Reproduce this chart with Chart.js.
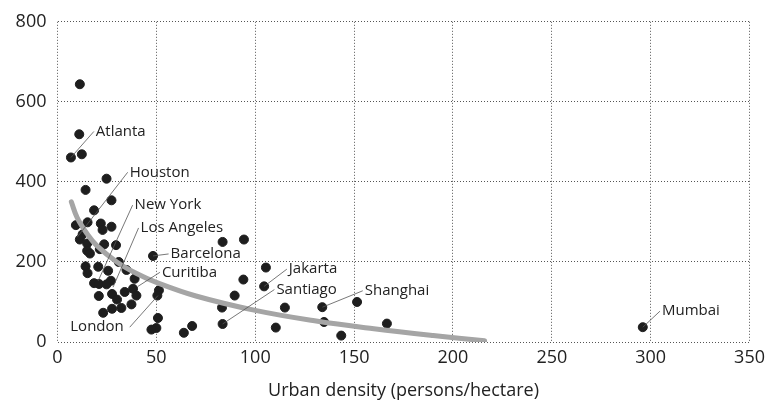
<!DOCTYPE html>
<html>
<head>
<meta charset="utf-8">
<script src="https://cdn.jsdelivr.net/npm/chart.js@4/dist/chart.umd.min.js"></script>
<style>
  body { margin: 0; background: #fff; }
  #wrap { width: 770px; height: 406px; }
</style>
</head>
<body>
<div id="wrap"><canvas id="densityChart" width="770" height="406"></canvas></div>
<script>
// Cities: urban density (persons/hectare) vs value
const densityX = [11.3, 11, 6.8, 12.3, 24.8, 14.2, 27.3, 18.5, 9.3, 15.2, 21.9, 27.3, 22.8, 12.7, 11.3,
  15, 23.6, 29.6, 15, 16.4, 21.4, 48.3, 31, 14.2, 20.6, 15.2, 25.6, 34.9, 39, 18.5, 21, 27, 24.8,
  34, 38.2, 51.3, 50.5, 20.9, 27.6, 30.1, 39.9, 37.4, 32.3, 27.6, 23.1, 50.8, 50, 47.5, 63.9, 68.1,
  83.5, 94.3, 94, 89.6, 83.2, 83.5, 105.4, 104.5, 115, 133.9, 151.5, 110.4, 134.8, 143.5, 166.6, 296];
const densityY = [644, 519, 461, 469, 408, 380, 354, 329, 292, 299, 296, 288, 280, 269, 256,
  246, 244, 242, 228, 221, 232, 215, 200, 189, 188, 172, 178, 180, 158, 147, 145, 153, 144,
  125, 133, 129, 116, 115, 120, 106, 116, 94, 85, 83, 73, 60, 35, 31, 23, 40,
  250, 256, 156, 116, 86, 45, 186, 139, 86, 87, 100, 36, 50, 16, 46, 37];

// Trend curve
const trendX = [7, 10, 15, 20, 30, 40, 50, 70, 100, 130, 160, 190, 216];
const trendY = [350, 310, 270, 240, 200, 171, 149, 115, 79, 53, 33, 16, 3];

const xTicks = [0, 50, 100, 150, 200, 250, 300, 350];
const yTicks = [0, 200, 400, 600, 800];

// City labels: name, point it refers to, where the text starts
const cityNames = ['Atlanta', 'Houston', 'New York', 'Los Angeles', 'Barcelona', 'Curitiba', 'London',
  'Jakarta', 'Santiago', 'Shanghai', 'Mumbai'];
const cityPtX = [6.8, 10, 20.6, 28.1, 48.3, 40.7, 50.8, 104.5, 83.5, 134, 296];
const cityPtY = [461, 262, 153, 137, 215, 139, 116, 139, 45, 87, 37];
const cityTextX = [19.4, 36.5, 39, 42, 57.2, 52.8, 33.5, 117, 110.7, 155.4, 305.7];
const cityTextY = [526, 424, 342, 285, 220, 174, 37, 182, 131, 128, 77];

const FONT = '"Open Sans", "Liberation Sans", sans-serif';

const labelPlugin = {
    id: 'cityLabels',
    afterDatasetsDraw(chart) {
        const c = chart.ctx;
        const xs = chart.scales.x, ys = chart.scales.y;
        c.save();
        c.font = '15px ' + FONT;
        c.textBaseline = 'middle';
        for (let i = 0; i < cityNames.length; i++) {
            const px = xs.getPixelForValue(cityPtX[i]);
            const py = ys.getPixelForValue(cityPtY[i]);
            const tx = xs.getPixelForValue(cityTextX[i]);
            const ty = ys.getPixelForValue(cityTextY[i]);
            const right = cityNames[i] === 'London';
            c.strokeStyle = '#555';
            c.lineWidth = 0.8;
            c.beginPath();
            c.moveTo(px, py);
            c.lineTo(right ? tx + 6 : tx - 2, ty);
            c.stroke();
            c.fillStyle = '#222';
            c.textAlign = right ? 'right' : 'left';
            c.fillText(cityNames[i], tx, ty);
        }
        c.restore();
    }
};

const ctx = document.getElementById('densityChart').getContext('2d');
const densityChart = new Chart(ctx, {
    type: 'scatter',
    data: {
        datasets: [{
            type: 'line',
            data: trendX.map((x, i) => ({ x: x, y: trendY[i] })),
            borderColor: '#a5a5a5',
            borderWidth: 5,
            borderCapStyle: 'round',
            pointRadius: 0,
            tension: 0.4,
            fill: false,
            order: 0
        }, {
            data: densityX.map((x, i) => ({ x: x, y: densityY[i] })),
            backgroundColor: '#1e1e1e',
            borderColor: '#1e1e1e',
            pointRadius: 4.5,
            order: 1
        }]
    },
    options: {
        responsive: false,
        animation: false,
        layout: { padding: { top: 19, right: 18, left: 0, bottom: 0 } },
        plugins: { legend: { display: false }, tooltip: { enabled: false } },
        scales: {
            x: {
                type: 'linear',
                min: 0,
                max: 350,
                afterBuildTicks: s => { s.ticks = xTicks.map(v => ({ value: v })); },
                afterFit: s => { s.height = 64; },
                grid: { color: '#555', lineWidth: 1, drawTicks: false },
                border: { display: false, dash: [1, 2] },
                ticks: { padding: 5, color: '#222', font: { family: FONT, size: 18 } },
                title: {
                    display: true,
                    text: 'Urban density (persons/hectare)',
                    color: '#222',
                    font: { family: FONT, size: 18 },
                    padding: { top: 3 }
                }
            },
            y: {
                min: 0,
                max: 800,
                afterBuildTicks: s => { s.ticks = yTicks.map(v => ({ value: v })); },
                afterFit: s => { s.width = 57.5; },
                grid: { color: '#555', lineWidth: 1, drawTicks: false },
                border: { display: false, dash: [1, 2] },
                ticks: { padding: 11, color: '#222', font: { family: FONT, size: 18 } }
            }
        }
    },
    plugins: [labelPlugin]
});
</script>
</body>
</html>
